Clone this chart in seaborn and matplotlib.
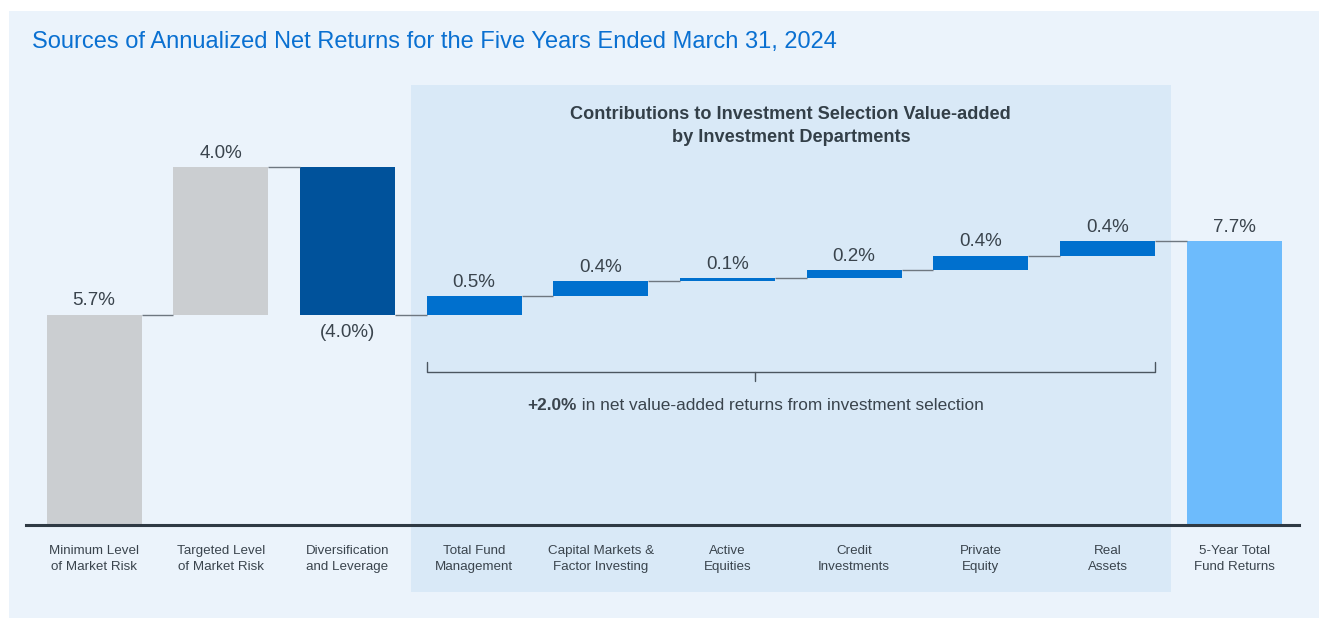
import numpy as np
import pandas as pd
import matplotlib.pyplot as plt
import matplotlib.transforms as mtransforms
from matplotlib.patches import Rectangle
import seaborn as sns

# Chart data
categories = [
    "Minimum Level\nof Market Risk",
    "Targeted Level\nof Market Risk",
    "Diversification\nand Leverage",
    "Total Fund\nManagement",
    "Capital Markets &\nFactor Investing",
    "Active\nEquities",
    "Credit\nInvestments",
    "Private\nEquity",
    "Real\nAssets",
    "5-Year Total\nFund Returns",
]
changes = [5.7, 4.0, -4.0, 0.5, 0.4, 0.1, 0.2, 0.4, 0.4]
total_return = 7.7
value_labels = ["5.7%", "4.0%", "(4.0%)", "0.5%", "0.4%", "0.1%",
                "0.2%", "0.4%", "0.4%", "7.7%"]
selection_total = "+2.0%"
selection_text = " in net value-added returns from investment selection"
title = "Sources of Annualized Net Returns for the Five Years Ended March 31, 2024"
header = "Contributions to Investment Selection Value-added\nby Investment Departments"

# Colours
GREY = "#CBCED1"
DARK_BLUE = "#00529B"
MID_BLUE = "#0070CE"
LIGHT_BLUE = "#6DBBFC"
bar_colors = [GREY, GREY, DARK_BLUE] + [MID_BLUE] * 6 + [LIGHT_BLUE]
PANEL = "#EBF3FB"
SHADE = "#D9E9F7"
TEXT = "#3A444D"
TITLE = "#0A70D1"

sns.set_theme(style="white")
plt.rcParams["font.family"] = ["Liberation Sans", "DejaVu Sans"]

# Waterfall geometry from the data
ends = np.cumsum(changes)
starts = ends - np.array(changes)
heights = list(np.abs(changes)) + [total_return]
bottoms = list(np.minimum(starts, ends)) + [0.0]
tops = [b + h for b, h in zip(bottoms, heights)]

df = pd.DataFrame({"category": categories, "height": heights, "bottom": bottoms})

W, H = 1319, 618
fig = plt.figure(figsize=(W / 100, H / 100), dpi=100)
fig.patch.set_facecolor("white")
fig.patches.append(Rectangle((9 / W, 0), 1 - 9 / W, 1 - 11 / H,
                             transform=fig.transFigure, facecolor=PANEL,
                             edgecolor="none", zorder=-1))

ax = fig.add_axes([26 / W, (H - 525) / H, (1299 - 26) / W, (525 - 85) / H])
ax.set_facecolor("none")

bar_width = 0.75
sns.barplot(data=df, x="category", y="height", order=categories,
            bottom=df["bottom"].values, width=bar_width, errorbar=None,
            color=GREY, saturation=1, ax=ax)
for patch, c in zip(ax.patches, bar_colors):
    patch.set_facecolor(c)
    patch.set_edgecolor("none")

ax.set_xlim(-0.537, 9.511)
ax.set_ylim(0, 11.92)

# shaded band for investment departments
blend = mtransforms.blended_transform_factory(ax.transData, fig.transFigure)
ax.add_patch(Rectangle((2.5, (H - 592) / H), 6.0, (592 - 85) / H,
                       transform=blend, facecolor=SHADE, edgecolor="none",
                       zorder=0.5, clip_on=False))

# connector lines
half = bar_width / 2
for i, level in enumerate(ends):
    ax.plot([i + half, i + 1 - half], [level, level], color="#6E7780",
            lw=1, solid_capstyle="butt", zorder=2)

# value labels
for i, lab in enumerate(value_labels):
    if i < len(changes) and changes[i] < 0:
        ax.annotate(lab, (i, bottoms[i]), xytext=(0, -13.2), textcoords="offset points",
                    ha="center", va="center", fontsize=13.5, color=TEXT)
    else:
        ax.annotate(lab, (i, tops[i]), xytext=(0, 9.8), textcoords="offset points",
                    ha="center", va="center", fontsize=13.5, color=TEXT)

# bracket below the department bars
left, right = 3 - half, 8 + half
mid = 5.22
ax.plot([left, left, right, right], [4.42, 4.15, 4.15, 4.42], color="#4B5660", lw=1,
        zorder=3)
ax.plot([mid, mid], [4.15, 3.90], color="#4B5660", lw=1, zorder=3)

text_y = 3.23
t1 = ax.text(mid, text_y, selection_total, fontweight="bold", fontsize=12.4,
             color=TEXT, ha="left", va="center")
t2 = ax.text(mid, text_y, selection_text, fontsize=12.4, color=TEXT,
             ha="left", va="center")
fig.canvas.draw()
r = fig.canvas.get_renderer()
w1 = t1.get_window_extent(r).width
w2 = t2.get_window_extent(r).width
cx, cy = ax.transData.transform((mid, text_y))
x0 = cx - (w1 + w2) / 2
inv = ax.transData.inverted()
t1.set_position(inv.transform((x0, cy)))
t2.set_position(inv.transform((x0 + w1, cy)))

ax.text(5.5, 10.82, header, ha="center", va="center", fontweight="bold",
        fontsize=13.1, linespacing=1.45, color="#333F48")

fig.text(32 / W, 1 - 48 / H, title, fontsize=17, color=TITLE, va="baseline")

# axes styling
sns.despine(ax=ax, left=True)
ax.spines["bottom"].set_color("#2F3A44")
ax.spines["bottom"].set_linewidth(2.2)
ax.spines["bottom"].set_zorder(4)
ax.set_yticks([])
ax.set_xlabel("")
ax.set_ylabel("")
ax.tick_params(axis="x", length=0, pad=14.5, labelsize=9.6, labelcolor=TEXT)
plt.setp(ax.get_xticklabels(), linespacing=1.38)

fig.savefig("out.png", dpi=100)
plt.close(fig)
